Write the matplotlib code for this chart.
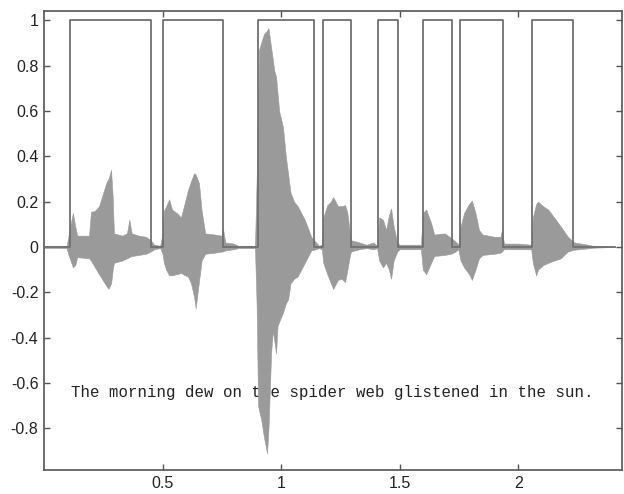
import matplotlib.pyplot as plt
import numpy as np

plt.rcParams["font.family"] = ["Liberation Sans", "DejaVu Sans"]

# speech envelope (seconds, upper peak, lower peak)
env_t = [0.0, 0.095, 0.102, 0.112, 0.122, 0.132, 0.14, 0.19, 0.198, 0.215, 0.232, 0.25, 0.262, 0.272,
         0.283, 0.29, 0.295, 0.33, 0.35, 0.36, 0.37, 0.40, 0.43, 0.45, 0.465, 0.49,
         0.50, 0.506, 0.515, 0.528, 0.54, 0.56, 0.578, 0.595, 0.607, 0.62, 0.633, 0.64, 0.654, 0.665,
         0.68, 0.72, 0.75, 0.755, 0.765, 0.80, 0.82, 0.89,
         0.897, 0.903, 0.907, 0.916, 0.928, 0.941, 0.947, 0.958, 0.965, 0.971, 0.979, 0.985, 0.992,
         1.008, 1.02, 1.03, 1.04, 1.055, 1.07, 1.085, 1.10, 1.115, 1.127, 1.148, 1.16,
         1.172, 1.178, 1.195, 1.21, 1.22, 1.24, 1.255, 1.27, 1.28, 1.29, 1.295, 1.33, 1.36, 1.39, 1.405,
         1.414, 1.43, 1.443, 1.455, 1.464, 1.475, 1.49, 1.50, 1.59,
         1.598, 1.612, 1.633, 1.646, 1.69, 1.717, 1.735, 1.748,
         1.757, 1.772, 1.793, 1.805, 1.82, 1.835, 1.85, 1.90, 1.925, 1.932, 1.94, 2.0, 2.055,
         2.062, 2.076, 2.084, 2.105, 2.127, 2.152, 2.18, 2.21, 2.236, 2.295, 2.32, 2.41]
env_upper = [0.003, 0.005, 0.04, 0.10, 0.15, 0.09, 0.05, 0.05, 0.155, 0.16, 0.18, 0.24, 0.28, 0.30,
             0.34, 0.22, 0.06, 0.05, 0.06, 0.12, 0.06, 0.05, 0.045, 0.03, 0.01, 0.005,
             0.06, 0.16, 0.18, 0.21, 0.165, 0.15, 0.13, 0.20, 0.25, 0.29, 0.325, 0.32, 0.28, 0.16,
             0.06, 0.055, 0.05, 0.08, 0.02, 0.015, 0.005, 0.005,
             0.30, 0.60, 0.87, 0.90, 0.94, 0.955, 0.965, 0.88, 0.83, 0.78, 0.75, 0.68, 0.60,
             0.53, 0.40, 0.32, 0.24, 0.20, 0.18, 0.15, 0.12, 0.08, 0.045, 0.02, 0.005,
             0.01, 0.13, 0.185, 0.20, 0.22, 0.18, 0.18, 0.185, 0.15, 0.06, 0.03, 0.02, 0.01, 0.02, 0.005,
             0.13, 0.12, 0.075, 0.14, 0.17, 0.09, 0.02, 0.01, 0.01,
             0.15, 0.165, 0.105, 0.055, 0.06, 0.04, 0.025, 0.01,
             0.09, 0.15, 0.19, 0.205, 0.15, 0.075, 0.055, 0.045, 0.045, 0.075, 0.015, 0.015, 0.01,
             0.13, 0.19, 0.20, 0.18, 0.165, 0.13, 0.09, 0.045, 0.02, 0.01, 0.004, 0.0]
env_lower = [-0.003, -0.005, -0.03, -0.06, -0.09, -0.08, -0.045, -0.05, -0.06, -0.09, -0.12, -0.15, -0.17, -0.185,
             -0.16, -0.10, -0.07, -0.06, -0.05, -0.045, -0.04, -0.035, -0.03, -0.02, -0.01, -0.005,
             -0.03, -0.07, -0.10, -0.125, -0.125, -0.12, -0.115, -0.125, -0.13, -0.16, -0.22, -0.27, -0.15, -0.06,
             -0.03, -0.025, -0.02, -0.02, -0.015, -0.01, -0.005, -0.005,
             -0.26, -0.70, -0.72, -0.76, -0.84, -0.91, -0.80, -0.47, -0.37, -0.41, -0.47, -0.35, -0.33,
             -0.29, -0.25, -0.23, -0.16, -0.14, -0.13, -0.10, -0.07, -0.04, -0.015, -0.01, -0.005,
             -0.01, -0.07, -0.12, -0.16, -0.185, -0.145, -0.14, -0.155, -0.10, -0.04, -0.02, -0.01, -0.005, -0.01, -0.005,
             -0.06, -0.09, -0.07, -0.10, -0.14, -0.06, -0.02, -0.01, -0.01,
             -0.10, -0.12, -0.07, -0.04, -0.035, -0.03, -0.02, -0.01,
             -0.06, -0.09, -0.12, -0.145, -0.10, -0.05, -0.035, -0.03, -0.025, -0.02, -0.01, -0.01, -0.01,
             -0.07, -0.125, -0.10, -0.08, -0.07, -0.06, -0.05, -0.02, -0.012, -0.006, -0.003, 0.0]

# detected speech intervals (seconds)
vad_on = [0.110, 0.502, 0.903, 1.177, 1.409, 1.599, 1.755, 2.059]
vad_off = [0.451, 0.755, 1.139, 1.295, 1.494, 1.722, 1.937, 2.232]
t_end = 2.41

sentence = "The morning dew on the spider web glistened in the sun."

# step trace for the detector output
step_x = [0.0]
step_y = [0.0]
for a, b in zip(vad_on, vad_off):
    step_x += [a, a, b, b]
    step_y += [0.0, 1.0, 1.0, 0.0]
step_x.append(t_end)
step_y.append(0.0)

fig = plt.figure(figsize=(6.24, 4.94), dpi=100)
ax = fig.add_axes([0.0705, 0.0486, 0.927, 0.929])

ax.text(0.114, -0.64, sentence, family=["Liberation Mono", "DejaVu Sans Mono"],
        fontsize=11.3, color="#222222", va="center", ha="left", zorder=1)
ax.fill_between(np.array(env_t), np.array(env_lower), np.array(env_upper),
                color="#9a9a9a", linewidth=0.4, edgecolor="#9a9a9a", zorder=2)
ax.plot(step_x, step_y, color="#707070", linewidth=1.3, zorder=3)

ax.set_xlim(0, 2.44)
ax.set_ylim(-0.984, 1.041)
ax.set_xticks([0.5, 1, 1.5, 2])
ax.set_xticklabels(["0.5", "1", "1.5", "2"])
ax.set_yticks([-0.8, -0.6, -0.4, -0.2, 0, 0.2, 0.4, 0.6, 0.8, 1])
ax.set_yticklabels(["-0.8", "-0.6", "-0.4", "-0.2", "0", "0.2", "0.4", "0.6", "0.8", "1"])
ax.tick_params(direction="in", top=True, right=True, length=4, width=1,
               color="#555555", labelsize=11.5, labelcolor="#222222", pad=4)
for s in ax.spines.values():
    s.set_color("#555555")
    s.set_linewidth(1.2)

fig.savefig("out.png", dpi=100)
plt.close(fig)
